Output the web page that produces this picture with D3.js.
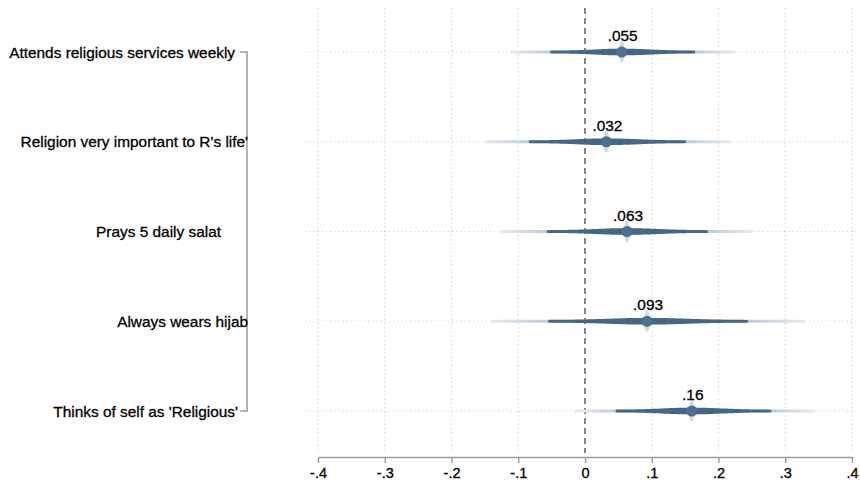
<!DOCTYPE html>
<html><head><meta charset="utf-8">
<script src="https://cdn.jsdelivr.net/npm/d3@7"></script>
<style>body{margin:0;background:#fff;}svg{display:block;font-family:"Liberation Sans",Arial,Helvetica,sans-serif;}
text{stroke:#000;stroke-width:0.3px;}</style>
</head><body><svg id="c" width="860" height="487"></svg>
<script>
// ---- data ----
const categories = ["Attends religious services weekly","Religion very important to R's life'","Prays 5 daily salat","Always wears hijab","Thinks of self as 'Religious'"];
const estimates  = [0.055, 0.032, 0.063, 0.093, 0.16];
const estLabels  = [".055", ".032", ".063", ".093", ".16"];
const innerLow   = [-0.052, -0.084, -0.057, -0.055, 0.046];
const innerHigh  = [0.165, 0.151, 0.184, 0.244, 0.279];
const outerLow   = [-0.112, -0.150, -0.126, -0.141, -0.015];
const outerHigh  = [0.226, 0.219, 0.252, 0.331, 0.345];
const tickValues = [-0.4,-0.3,-0.2,-0.1,0,0.1,0.2,0.3,0.4];
const tickLabels = ["-.4","-.3","-.2","-.1","0",".1",".2",".3",".4"];
// layout only: right edge of each category label
const labelEnd = [235, 248, 221, 248, 238];

const svg = d3.select("#c");
const x = d3.scaleLinear().domain([-0.4,0.4]).range([318,852]);
const y = d3.scalePoint().domain(categories).range([52,411]);
const plotTop = 8, plotBottom = 450, plotLeft = 305, plotRight = 858;

// grid
svg.append("g").selectAll("line").data(tickValues.filter(v=>v!==0)).join("line")
  .attr("x1",d=>x(d)).attr("x2",d=>x(d)).attr("y1",plotTop).attr("y2",plotBottom)
  .attr("stroke","#cfcfcf").attr("stroke-width",1.2).attr("stroke-dasharray","1.2,3");
svg.append("g").selectAll("line").data(categories).join("line")
  .attr("x1",plotLeft).attr("x2",plotRight).attr("y1",d=>y(d)).attr("y2",d=>y(d))
  .attr("stroke","#cfcfcf").attr("stroke-width",1.2).attr("stroke-dasharray","1.2,3");

// zero line
svg.append("line").attr("x1",x(0)).attr("x2",x(0)).attr("y1",plotTop).attr("y2",plotBottom+3)
  .attr("stroke","#707070").attr("stroke-width",1.7).attr("stroke-dasharray","6,4");

// x axis
const ax = svg.append("g").attr("transform","translate(0,457)")
  .call(d3.axisBottom(x).tickValues(tickValues).tickFormat((d,i)=>tickLabels[i]).tickSize(6).tickSizeOuter(0));
ax.select(".domain").attr("stroke","#9a9a9a").attr("stroke-width",1.4);
ax.selectAll(".tick line").attr("stroke","#9a9a9a").attr("stroke-width",1.4);
ax.selectAll(".tick text").attr("font-size",14.5).attr("fill","#000").attr("y",10.5)
  .attr("font-family","Liberation Sans, Arial, sans-serif");

// bracket
const bx = 247;
svg.append("path")
  .attr("d",`M${bx-7},${y(categories[0])}H${bx}V${y(categories[4])}H${bx-7}`)
  .attr("fill","none").attr("stroke","#9a9a9a").attr("stroke-width",1.5);

// labels
svg.append("g").selectAll("text").data(categories).join("text")
  .attr("x",(d,i)=>labelEnd[i]).attr("y",d=>y(d)+5.5).attr("text-anchor","end")
  .attr("font-size",15.4).attr("fill","#000").text(d=>d);

// coefficient spindles
const defs = svg.append("defs");
categories.forEach((c,i)=>{
  const cy = y(c), e = estimates[i];
  const ol = x(outerLow[i]), oh = x(outerHigh[i]);
  const il = x(innerLow[i]), ih = x(innerHigh[i]), ex = x(e);
  const gid = "g"+i;
  const g = defs.append("linearGradient").attr("id",gid).attr("gradientUnits","userSpaceOnUse")
    .attr("x1",ol).attr("x2",oh).attr("y1",0).attr("y2",0);
  const f = v=> (v-ol)/(oh-ol);
  g.append("stop").attr("offset",0).attr("stop-color","#e6ecf1");
  g.append("stop").attr("offset",f(il)).attr("stop-color","#bccad7");
  g.append("stop").attr("offset",f(ih)).attr("stop-color","#bccad7");
  g.append("stop").attr("offset",1).attr("stop-color","#e6ecf1");
  svg.append("line").attr("x1",ol).attr("x2",oh).attr("y1",cy).attr("y2",cy)
    .attr("stroke",`url(#${gid})`).attr("stroke-width",3);
  // dark tapered shape
  const n = 80, pts = [];
  const half = (xx)=>{
    const s = xx<ex ? (ex-il) : (ih-ex);
    const t = Math.abs(xx-ex)/s;
    return 1.3 + 2.1*Math.exp(-t*t*3.5);
  };
  for(let k=0;k<=n;k++){const xx = il + (ih-il)*k/n; pts.push([xx, cy-half(xx)]);}
  for(let k=n;k>=0;k--){const xx = il + (ih-il)*k/n; pts.push([xx, cy+half(xx)]);}
  svg.append("path").attr("d",d3.line()(pts)+"Z").attr("fill","#456686");
  // faint vertical whisker & point
  svg.append("ellipse").attr("cx",ex).attr("cy",cy).attr("rx",3).attr("ry",11).attr("fill","#c3cfdb").attr("opacity",0.75);
  svg.append("circle").attr("cx",ex).attr("cy",cy).attr("r",5.5).attr("fill","#4f7091");
  svg.append("text").attr("x",ex+1).attr("y",cy-11).attr("text-anchor","middle")
    .attr("font-size",15.4).attr("fill","#000").text(estLabels[i]);
});
</script></body></html>
